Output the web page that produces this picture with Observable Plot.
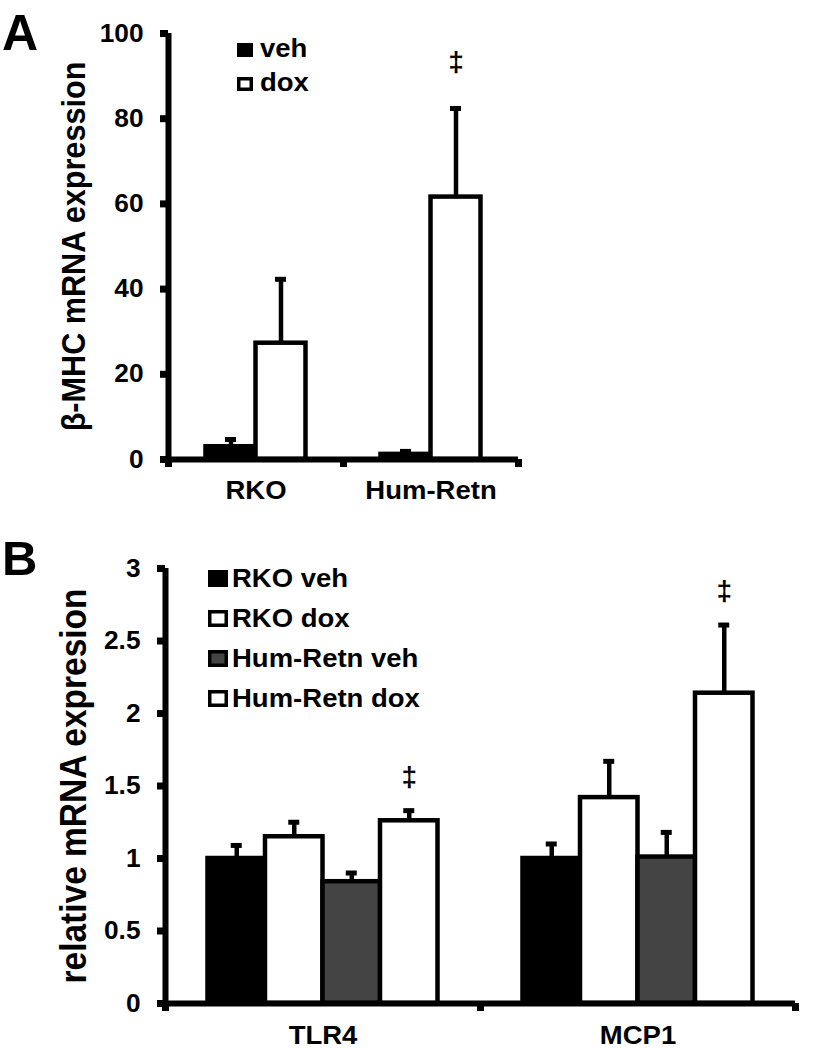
<!DOCTYPE html>
<html>
<head>
<meta charset="utf-8">
<script src="https://cdn.jsdelivr.net/npm/d3@7"></script>
<script src="https://cdn.jsdelivr.net/npm/@observablehq/plot@0.6"></script>
<style>
  html, body { margin: 0; padding: 0; background: #fff; }
  #fig { position: relative; width: 814px; height: 1048px; background: #fff; overflow: hidden; }
  #pa, #pb { position: absolute; left: 0; }
  #pa { top: 0; }
  #pb { top: 520px; }
  #ov { position: absolute; left: 0; top: 0; pointer-events: none; }
</style>
</head>
<body>
<div id="fig">
  <div id="pa"></div>
  <div id="pb"></div>
  <svg id="ov" width="814" height="1048"></svg>
</div>
<script>
// ---------- Panel A data ----------
const catsA = ["RKO", "Hum-Retn"];
const seriesA = ["veh", "dox"];
const vehMeanA = [3.0, 1.2];
const vehSeA = [1.7, 0.7];
const doxMeanA = [27.3, 61.6];
const doxSeA = [15.0, 20.8];
const colorsA = ["#000000", "#ffffff"];
const yTicksA = [0, 20, 40, 60, 80, 100];
const sigA = [["Hum-Retn", "dox"]];
const titleA = "β-MHC mRNA expression";

// ---------- Panel B data ----------
const catsB = ["TLR4", "MCP1"];
const seriesB = ["RKO veh", "RKO dox", "Hum-Retn veh", "Hum-Retn dox"];
const rkoVehB = [1.00, 1.00];
const rkoVehSeB = [0.09, 0.10];
const rkoDoxB = [1.15, 1.42];
const rkoDoxSeB = [0.10, 0.25];
const humVehB = [0.84, 1.01];
const humVehSeB = [0.06, 0.17];
const humDoxB = [1.26, 2.14];
const humDoxSeB = [0.07, 0.47];
const colorsB = ["#000000", "#ffffff", "#444444", "#ffffff"];
const yTicksB = [0, 0.5, 1, 1.5, 2, 2.5, 3];
const sigB = [["TLR4", "Hum-Retn dox"], ["MCP1", "Hum-Retn dox"]];
const titleB = "relative mRNA expresion";

const font = "'Liberation Sans', Arial, Helvetica, sans-serif";

function panel(o) {
  const n = o.cats.length;
  const band = d3.scaleBand(o.series, [0, 1]).paddingInner(0).paddingOuter(o.padOuter);
  const bw = band.bandwidth();
  const rows = [];
  o.cats.forEach((c, i) => o.series.forEach((s, j) =>
    rows.push({cat: c, ci: i, series: s, value: o.means[j][i], se: o.ses[j][i]})));
  const left = d => d.ci + band(d.series);
  const mid = d => left(d) + bw / 2;
  const unitPx = (o.width - o.ml - o.mr) / n;
  const capHalf = o.capPx / 2 / unitPx;
  const sigRows = rows.filter(d => o.sig.some(([c, s]) => c === d.cat && s === d.series));
  return Plot.plot({
    width: o.width, height: o.height,
    marginLeft: o.ml, marginRight: o.mr, marginTop: o.mt, marginBottom: o.mb,
    x: {domain: [0, n], axis: null},
    y: {domain: o.yDomain, axis: null},
    color: {domain: o.series, range: o.colors},
    style: {fontFamily: font, fontWeight: "bold", fontSize: "25px", color: "black", background: "transparent", overflow: "visible"},
    marks: [
      Plot.rectY(rows, {x1: left, x2: d => left(d) + bw, y: "value", fill: "series", stroke: "black", strokeWidth: 4.5}),
      Plot.ruleX(rows, {x: mid, y1: "value", y2: d => d.value + d.se, strokeWidth: 4.5}),
      Plot.ruleY(rows, {y: d => d.value + d.se, x1: d => mid(d) - capHalf, x2: d => mid(d) + capHalf, strokeWidth: 5}),
      Plot.text(sigRows, {x: mid, y: d => d.value + d.se, dy: o.sigDy, text: () => "‡", fontSize: 28}),
      Plot.ruleY([0], {strokeWidth: 6}),
      Plot.ruleX([0], {strokeWidth: 6}),
      Plot.axisY({ticks: o.yTicks, tickFormat: o.fmt, tickSize: 8, tickPadding: 17, strokeWidth: 7, label: null}),
      Plot.axisX({ticks: d3.range(n + 1), tickFormat: () => "", tickSize: 8, strokeWidth: 7, label: null}),
      Plot.text(o.cats, {x: (d, i) => i + 0.5, frameAnchor: "bottom", lineAnchor: "middle", dy: o.catDy}),
      Plot.text([o.title], {frameAnchor: "left", textAnchor: "middle", lineAnchor: "middle", rotate: -90, dx: o.titleDx, fontSize: o.titleSize})
    ]
  });
}

function textsMatching(root, strings) {
  return Array.from(root.querySelectorAll("text")).filter(t => strings.includes(t.textContent));
}

function stretch(nodes, k) {
  nodes.forEach(t => {
    const L = t.getComputedTextLength();
    if (L > 0) {
      t.setAttribute("textLength", (L * k).toFixed(2));
      t.setAttribute("lengthAdjust", "spacingAndGlyphs");
    }
  });
}

// size the rotated title so its run has the measured length, and widen its glyphs
function fitTitle(p, title, size, len, thick) {
  textsMatching(p, [title]).forEach(t => {
    const L = t.getComputedTextLength();
    if (L > 0) t.style.fontSize = (size * len / L).toFixed(2) + "px";
    const tr = t.getAttribute("transform") || "";
    t.setAttribute("transform", tr + ` scale(1,${thick})`);
  });
}

const plotA = panel({
  cats: catsA, series: seriesA, means: [vehMeanA, doxMeanA], ses: [vehSeA, doxSeA],
  colors: colorsA, yDomain: [0, 100], yTicks: yTicksA, fmt: d => String(d),
  width: 814, height: 504, ml: 168, mr: 296, mt: 33, mb: 45,
  padOuter: 0.75, capPx: 11, sig: sigA, sigDy: -46, catDy: 31,
  title: titleA, titleDx: -94, titleSize: 30
});
document.getElementById("pa").appendChild(plotA);

const plotB = panel({
  cats: catsB, series: seriesB, means: [rkoVehB, rkoDoxB, humVehB, humDoxB],
  ses: [rkoVehSeB, rkoDoxSeB, humVehSeB, humDoxSeB],
  colors: colorsB, yDomain: [0, 3], yTicks: yTicksB, fmt: d => String(d),
  width: 814, height: 528, ml: 165, mr: 19, mt: 48, mb: 45,
  padOuter: 0.739, capPx: 11, sig: sigB, sigDy: -34, catDy: 32,
  title: titleB, titleDx: -91, titleSize: 30
});
document.getElementById("pb").appendChild(plotB);

stretch(textsMatching(plotA, yTicksA.map(String)), 1.05);
stretch(textsMatching(plotB, yTicksB.map(String)), 1.05);
stretch(textsMatching(plotA, catsA), 1.1);
stretch(textsMatching(plotB, catsB), 1.1);
fitTitle(plotA, titleA, 30, 370, 1.1);
fitTitle(plotB, titleB, 30, 395, 1.1);

// ---------- Overlay: panel letters and legends ----------
const ov = d3.select("#ov").style("font-family", font).style("font-weight", "bold");
ov.append("text").attr("x", 2).attr("y", 50).attr("font-size", 50).text("A");
ov.append("text").attr("x", 2).attr("y", 575).attr("font-size", 49).text("B");

function legend(items, colors, sqX, sqW, sqH, baseY, step, textX, fs) {
  const g = ov.append("g");
  items.forEach((name, i) => {
    const by = baseY + i * step;
    g.append("rect")
      .attr("x", sqX + 1.75).attr("y", by - sqH + 1.75)
      .attr("width", sqW - 3.5).attr("height", sqH - 3.5)
      .attr("fill", colors[i]).attr("stroke", "#000").attr("stroke-width", 3.5);
    g.append("text").attr("class", "lg").attr("x", textX).attr("y", by).attr("font-size", fs).text(name);
  });
}
legend(seriesA, colorsA, 237, 16, 14, 57, 34, 260, 25);
legend(seriesB, colorsB, 208, 20, 17, 587, 40, 232, 25);
stretch(document.querySelectorAll("#ov text.lg"), 1.1);
</script>
</body>
</html>
